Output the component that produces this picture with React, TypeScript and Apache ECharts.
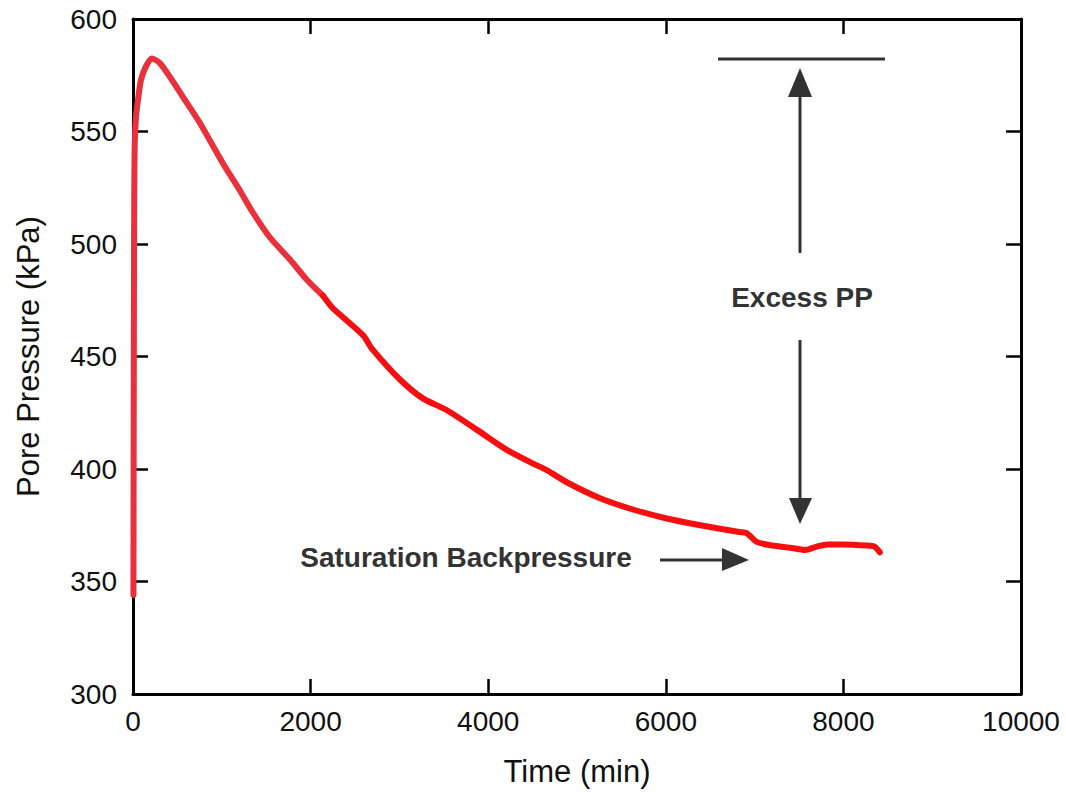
import React, { useEffect, useRef } from "react";
import * as echarts from "echarts";

// Time (min) and pore pressure (kPa)
const timeEarly = [5, 8, 12, 18, 35, 56, 90, 143, 210, 300, 420, 560, 750, 1010, 1200, 1350, 1540, 1770, 1960, 2140];
const ppEarly = [344, 420, 500, 542, 557, 564, 573, 578.7, 582.5, 580.5, 574, 565.5, 554, 536, 524, 514, 503, 493, 484, 477];
const timeLate = [2140, 2250, 2590, 2690, 3000, 3260, 3540, 3870, 4210, 4500, 4660, 4890, 5260, 5630, 6010, 6390, 6830, 6910, 7030, 7200, 7400, 7570, 7700, 7820, 8000, 8260, 8350, 8410];
const ppLate = [477, 471.5, 459.5, 453.5, 440, 431.5, 426, 417.5, 408.5, 402.5, 399.5, 394, 387, 382, 378, 375, 372, 371.5, 367.5, 366, 365, 364, 365.5, 366.5, 366.5, 366, 365.5, 363];

const xTicks = [0, 2000, 4000, 6000, 8000, 10000];
const yTicks = [300, 350, 400, 450, 500, 550, 600];

const xTitle = "Time (min)";
const yTitle = "Pore Pressure (kPa)";
const noteExcess = "Excess PP";
const noteSat = "Saturation Backpressure";

const FONT = '"Liberation Sans", Arial, sans-serif';
const INK = "#333333";

export default function App() {
  const ref = useRef<HTMLDivElement>(null);

  useEffect(() => {
    if (!ref.current) return;
    const chart = echarts.init(ref.current, null, { renderer: "svg" });
    const axisLine = { show: true, onZero: false, lineStyle: { color: "#000", width: 3 } };
    const tick = { show: true, inside: true, length: 15, lineStyle: { color: "#000", width: 2.5 } };
    const lbl = { color: "#111", fontSize: 28, fontFamily: FONT, formatter: (v: number) => String(v) };

    chart.setOption({
      animation: false,
      grid: { left: 133, right: 45, top: 19, bottom: 105 },
      xAxis: [
        {
          type: "value",
          min: xTicks[0],
          max: xTicks[xTicks.length - 1],
          interval: 2000,
          name: xTitle,
          nameLocation: "middle",
          nameGap: 62,
          nameTextStyle: { fontSize: 31, fontFamily: FONT, color: "#111" },
          axisLine,
          axisTick: tick,
          axisLabel: { ...lbl, margin: 13 },
          splitLine: { show: false },
        },
        {
          type: "value",
          position: "top",
          min: xTicks[0],
          max: xTicks[xTicks.length - 1],
          interval: 2000,
          axisLine,
          axisTick: tick,
          axisLabel: { show: false },
          splitLine: { show: false },
        },
      ],
      yAxis: [
        {
          type: "value",
          min: yTicks[0],
          max: yTicks[yTicks.length - 1],
          interval: 50,
          name: yTitle,
          nameLocation: "middle",
          nameGap: 89,
          nameTextStyle: { fontSize: 31, fontFamily: FONT, color: "#111" },
          axisLine,
          axisTick: tick,
          axisLabel: { ...lbl, margin: 16 },
          splitLine: { show: false },
        },
        {
          type: "value",
          position: "right",
          min: yTicks[0],
          max: yTicks[yTicks.length - 1],
          interval: 50,
          axisLine,
          axisTick: tick,
          axisLabel: { show: false },
          splitLine: { show: false },
        },
      ],
      series: [
        {
          type: "line",
          data: timeEarly.map((t, i) => [t, ppEarly[i]]),
          showSymbol: false,
          smooth: 0.25,
          lineStyle: { color: "#e9303b", width: 6, cap: "round", join: "round" },
        },
        {
          type: "line",
          data: timeLate.map((t, i) => [t, ppLate[i]]),
          showSymbol: false,
          smooth: 0.25,
          lineStyle: { color: "#f50f10", width: 6, cap: "round", join: "round" },
        },
      ],
      graphic: [
        { type: "line", shape: { x1: 718, y1: 59, x2: 885, y2: 59 }, style: { stroke: INK, lineWidth: 3 } },
        { type: "line", shape: { x1: 800, y1: 253, x2: 800, y2: 94 }, style: { stroke: INK, lineWidth: 3 } },
        { type: "polygon", shape: { points: [[800, 68], [788, 97], [812, 97]] }, style: { fill: INK } },
        { type: "line", shape: { x1: 800, y1: 340, x2: 800, y2: 500 }, style: { stroke: INK, lineWidth: 3 } },
        { type: "polygon", shape: { points: [[800, 524], [789, 498], [812, 498]] }, style: { fill: INK } },
        { type: "line", shape: { x1: 660, y1: 560, x2: 725, y2: 560 }, style: { stroke: INK, lineWidth: 3 } },
        { type: "polygon", shape: { points: [[749, 560], [722, 548], [722, 571]] }, style: { fill: INK } },
        {
          type: "text",
          x: 802,
          y: 297,
          style: { text: noteExcess, font: `bold 28px ${FONT}`, fill: INK, align: "center", verticalAlign: "middle" },
        },
        {
          type: "text",
          x: 466,
          y: 557,
          style: { text: noteSat, font: `bold 28px ${FONT}`, fill: INK, align: "center", verticalAlign: "middle" },
        },
      ],
    });
    return () => chart.dispose();
  }, []);

  return <div ref={ref} style={{ width: 1066, height: 799, position: "absolute", left: 0, top: 0 }} />;
}
